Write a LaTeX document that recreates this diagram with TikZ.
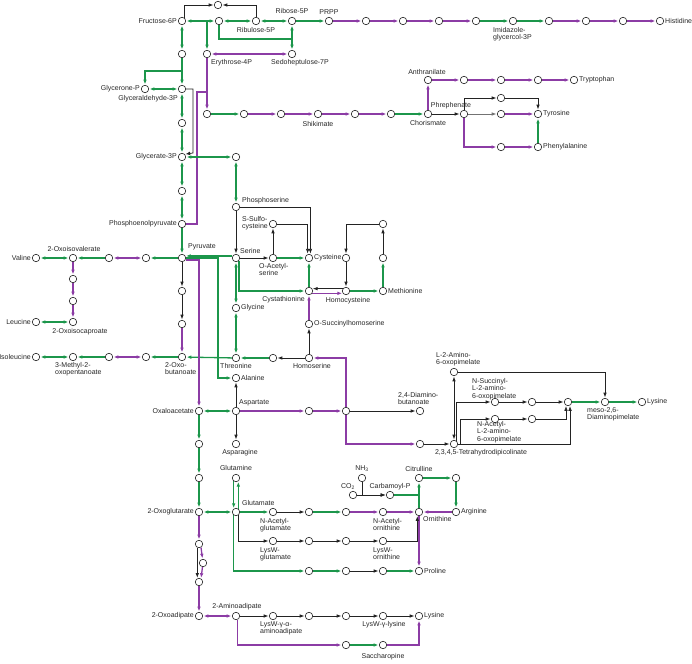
\documentclass[tikz,border=0pt]{standalone}
\usepackage{fontspec}
\setmainfont{Liberation Sans}
\usetikzlibrary{arrows.meta,calc}
\definecolor{gr}{RGB}{28,150,75}
\definecolor{pu}{RGB}{140,60,165}
\definecolor{bk}{RGB}{35,35,35}
\pgfdeclarelayer{bg}
\pgfsetlayers{bg,main}
\begin{document}
\begin{tikzpicture}[x=1pt,y=-1pt,
  c/.style={circle,draw=black!85,line width=0.6pt,fill=white,inner sep=0pt,minimum size=7.5pt},
  lb/.style={font=\fontsize{7}{7.6}\selectfont,inner sep=0pt,align=left,text=black!85},
  G/.style={draw=gr,line width=1.3pt},
  P/.style={draw=pu,line width=1.3pt},
  K/.style={draw=bk,line width=0.75pt},
  ar/.style={-{Latex[length=4.8pt,width=3.6pt]},shorten >=0.5pt},
  bi/.style={{Latex[length=4.8pt,width=3.6pt]}-{Latex[length=4.8pt,width=3.6pt]},shorten >=0.5pt,shorten <=0.5pt},
  rc/.style={sharp corners}]
\useasboundingbox (0,0) rectangle (692,663);
% ---------- circles ----------
\node[c] (top) at (218,5) {};
\node[c] (f6p) at (182,21) {};
\node[c] (x5p) at (219,21) {};
\node[c] (ru5p) at (256,21) {};
\node[c] (r5p) at (292,21) {};
\node[c] (prpp) at (329,21) {};
\node[c] (h1) at (366,21) {};
\node[c] (h2) at (403,21) {};
\node[c] (h3) at (439,21) {};
\node[c] (h4) at (476,21) {};
\node[c] (igp) at (513,21) {};
\node[c] (h5) at (549,21) {};
\node[c] (h6) at (586,21) {};
\node[c] (h7) at (623,21) {};
\node[c] (his) at (660,21) {};
\node[c] (c54) at (182,54) {};
\node[c] (e4p) at (207,54) {};
\node[c] (s7p) at (292,54) {};
\node[c] (glyp) at (145,89) {};
\node[c] (gap) at (182,89) {};
\node[c] (c123) at (182,123) {};
\node[c] (g3p) at (182,157) {};
\node[c] (c157) at (236,157) {};
\node[c] (c191) at (182,191) {};
\node[c] (pep) at (182,224) {};
\node[c] (pyr) at (182,258) {};
% shikimate
\node[c] (s1) at (207,114) {};
\node[c] (s2) at (244,114) {};
\node[c] (s3) at (281,114) {};
\node[c] (shik) at (318,114) {};
\node[c] (s5) at (355,114) {};
\node[c] (s6) at (391,114) {};
\node[c] (chor) at (428,114) {};
\node[c] (anth) at (428,80) {};
\node[c] (t1) at (464,80) {};
\node[c] (t2) at (501,80) {};
\node[c] (t3) at (538,80) {};
\node[c] (trp) at (574,80) {};
\node[c] (preph) at (464,114) {};
\node[c] (ty1) at (501,98) {};
\node[c] (ty2) at (501,114) {};
\node[c] (tyr) at (538,114) {};
\node[c] (ph1) at (501,147) {};
\node[c] (phe) at (538,147) {};
% serine block
\node[c] (pser) at (236,207) {};
\node[c] (ssc) at (273,224) {};
\node[c] (ser) at (236,258) {};
\node[c] (oas) at (273,258) {};
\node[c] (cys) at (309,258) {};
\node[c] (ch1) at (346,258) {};
\node[c] (ch2) at (383,224) {};
\node[c] (ch3) at (383,258) {};
\node[c] (met) at (383,291) {};
\node[c] (hcy) at (346,291) {};
\node[c] (cth) at (309,291) {};
\node[c] (gly) at (236,308) {};
\node[c] (osh) at (309,324) {};
\node[c] (hse) at (309,358) {};
\node[c] (thr1) at (273,358) {};
\node[c] (thr) at (236,358) {};
\node[c] (ala) at (236,378) {};
% branched chain
\node[c] (v1) at (146,258) {};
\node[c] (v2) at (109,258) {};
\node[c] (oiv) at (73,258) {};
\node[c] (val) at (36,258) {};
\node[c] (l1) at (73,279) {};
\node[c] (l2) at (73,301) {};
\node[c] (oic) at (73,322) {};
\node[c] (leu) at (36,322) {};
\node[c] (b1) at (182,291) {};
\node[c] (b2) at (182,324) {};
\node[c] (obu) at (182,357) {};
\node[c] (i1) at (146,357) {};
\node[c] (i2) at (109,357) {};
\node[c] (mop) at (73,357) {};
\node[c] (ile) at (36,357) {};
% aspartate
\node[c] (oaa) at (199,411) {};
\node[c] (asp) at (236,411) {};
\node[c] (a1) at (309,411) {};
\node[c] (asa) at (346,411) {};
\node[c] (dab) at (420,411) {};
\node[c] (asn) at (236,444) {};
\node[c] (o1) at (199,444) {};
\node[c] (o2) at (199,478) {};
\node[c] (gln) at (236,478) {};
\node[c] (ld1) at (420,444) {};
\node[c] (thdp) at (454,444) {};
\node[c] (aop) at (454,372) {};
\node[c] (nsuc) at (495,402) {};
\node[c] (ds1) at (532,402) {};
\node[c] (ds2) at (568,402) {};
\node[c] (dap) at (605,402) {};
\node[c] (lys1) at (642,402) {};
\node[c] (nac) at (495,419) {};
\node[c] (da1) at (532,419) {};
% glutamate
\node[c] (akg) at (199,512) {};
\node[c] (glu) at (236,512) {};
\node[c] (nag) at (273,512) {};
\node[c] (g2) at (309,512) {};
\node[c] (g3) at (346,512) {};
\node[c] (nao) at (383,512) {};
\node[c] (orn) at (419,512) {};
\node[c] (arg) at (456,512) {};
\node[c] (cit) at (419,478) {};
\node[c] (c478) at (456,478) {};
\node[c] (nh3) at (362,478) {};
\node[c] (co2) at (353,495) {};
\node[c] (cp) at (390,495) {};
\node[c] (lwg) at (273,541) {};
\node[c] (w2) at (309,541) {};
\node[c] (w3) at (346,541) {};
\node[c] (lwo) at (383,541) {};
\node[c] (p1) at (309,571) {};
\node[c] (p2) at (346,571) {};
\node[c] (p3) at (383,571) {};
\node[c] (pro) at (419,571) {};
% lysine (AAA)
\node[c] (k1) at (199,544) {};
\node[c] (k2) at (203,563) {};
\node[c] (k3) at (199,582) {};
\node[c] (oad) at (199,616) {};
\node[c] (aad) at (236,616) {};
\node[c] (y1) at (273,616) {};
\node[c] (y2) at (309,616) {};
\node[c] (y3) at (346,616) {};
\node[c] (lwl) at (383,616) {};
\node[c] (lys2) at (419,616) {};
\node[c] (sa1) at (346,645) {};
\node[c] (sac) at (383,645) {};
% ---------- labels ----------
\node[lb,anchor=east] (tf6p) at (177,21) {Fructose-6P};
\node[lb] (tru5p) at (256,30) {Ribulose-5P};
\node[lb] (tr5p) at (292,11) {Ribose-5P};
\node[lb] (tprpp) at (329,12) {PRPP};
\node[lb,anchor=north west] (tigp) at (493,27) {Imidazole-\\glycercol-3P};
\node[lb,anchor=west] (this) at (665,21) {Histidine};
\node[lb,anchor=west] (te4p) at (211,63) {Erythrose-4P};
\node[lb,anchor=west] (ts7p) at (271,63) {Sedoheptulose-7P};
\node[lb,anchor=east] (tglyp) at (140,89) {Glycerone-P};
\node[lb,anchor=east] (tgap) at (178,99) {Glyceraldehyde-3P};
\node[lb,anchor=east] (tg3p) at (177,157) {Glycerate-3P};
\node[lb,anchor=east] (tpep) at (177,224) {Phosphoenolpyruvate};
\node[lb,anchor=west] (tpyr) at (188,247) {Pyruvate};
\node[lb] (tshik) at (318,124) {Shikimate};
\node[lb] (tchor) at (428,123) {Chorismate};
\node[lb] (tanth) at (427,72) {Anthranilate};
\node[lb,anchor=west] (ttrp) at (579,80) {Tryptophan};
\node[lb] (tpreph) at (451,106) {Phrephenate};
\node[lb,anchor=west] (ttyr) at (543,114) {Tyrosine};
\node[lb,anchor=west] (tphe) at (543,147) {Phenylalanine};
\node[lb,anchor=west] (tpser) at (242,201) {Phosphoserine};
\node[lb,anchor=east] (tssc) at (268,223) {S-Sulfo-\\cysteine};
\node[lb,anchor=west] (tser) at (240,251) {Serine};
\node[lb,anchor=north west] (toas) at (259,263) {O-Acetyl-\\serine};
\node[lb,anchor=west] (tcys) at (314,258) {Cysteine};
\node[lb,anchor=west] (tmet) at (388,291) {Methionine};
\node[lb,anchor=north] (thcy) at (348,297) {Homocysteine};
\node[lb,anchor=north east] (tcth) at (305,296) {Cystathionine};
\node[lb,anchor=west] (tgly) at (241,308) {Glycine};
\node[lb,anchor=west] (tosh) at (314,324) {O-Succinylhomoserine};
\node[lb,anchor=north] (thse) at (312,363) {Homoserine};
\node[lb,anchor=north] (tthr) at (236,363) {Threonine};
\node[lb,anchor=west] (tala) at (241,378) {Alanine};
\node[lb] (toiv) at (74,249) {2-Oxoisovalerate};
\node[lb,anchor=east] (tval) at (31,258) {Valine};
\node[lb] (toic) at (80,332) {2-Oxoisocaproate};
\node[lb,anchor=east] (tleu) at (31,322) {Leucine};
\node[lb,anchor=east] (tile) at (31,357) {Isoleucine};
\node[lb,anchor=north west] (tmop) at (55,362) {3-Methyl-2-\\oxopentanoate};
\node[lb,anchor=north west] (tobu) at (165,362) {2-Oxo-\\butanoate};
\node[lb,anchor=east] (toaa) at (194,411) {Oxaloacetate};
\node[lb,anchor=west] (tasp) at (239,403) {Aspartate};
\node[lb,anchor=north] (tasn) at (240,449) {Asparagine};
\node[lb] (tgln) at (236,468) {Glutamine};
\node[lb,anchor=north west] (tdab) at (398,392) {2,4-Diamino-\\butanoate};
\node[lb,anchor=north west] (taop) at (436,352) {L-2-Amino-\\6-oxopimelate};
\node[lb,anchor=north west] (tnsuc) at (472,378) {N-Succinyl-\\L-2-amino-\\6-oxopimelate};
\node[lb,anchor=north west] (tnac) at (477,421) {N-Acetyl-\\L-2-amino-\\6-oxopimelate};
\node[lb] (tthdp) at (481,453) {2,3,4,5-Tetrahydrodipicolinate};
\node[lb,anchor=north west] (tdap) at (587,407) {meso-2,6-\\Diaminopimelate};
\node[lb,anchor=west] (tlys1) at (647,402) {Lysine};
\node[lb,anchor=east] (takg) at (194,512) {2-Oxoglutarate};
\node[lb,anchor=west] (tglu) at (242,503) {Glutamate};
\node[lb,anchor=north west] (tnag) at (260,518) {N-Acetyl-\\glutamate};
\node[lb,anchor=north west] (tnao) at (373,518) {N-Acetyl-\\ornithine};
\node[lb,anchor=west] (torn) at (423,519) {Ornithine};
\node[lb,anchor=west] (targ) at (461,512) {Arginine};
\node[lb] (tcit) at (419,469) {Citrulline};
\node[lb] (tnh3) at (362,469) {NH\textsubscript{3}};
\node[lb] (tco2) at (348,487) {CO\textsubscript{2}};
\node[lb] (tcp) at (390,487) {Carbamoyl-P};
\node[lb,anchor=north west] (tlwg) at (260,547) {LysW-\\glutamate};
\node[lb,anchor=north west] (tlwo) at (373,547) {LysW-\\ornithine};
\node[lb,anchor=west] (tpro) at (424,571) {Proline};
\node[lb,anchor=east] (toad) at (194,616) {2-Oxoadipate};
\node[lb] (taad) at (237,607) {2-Aminoadipate};
\node[lb,anchor=north west] (ty1l) at (260,621) {LysW-γ-α-\\aminoadipate};
\node[lb] (tlwl) at (384,625) {LysW-γ-lysine};
\node[lb,anchor=west] (tlys2) at (424,616) {Lysine};
\node[lb] (tsac) at (383,657) {Saccharopine};
% ---------- connectors ----------
\begin{pgfonlayer}{bg}
% top / pentose phosphate
\draw[K,ar,rc] (f6p.north east) |- (top);
\draw[K,ar,rc] (ru5p.north) |- (top);
\draw[G,bi] (f6p) -- (x5p);
\coordinate (j1) at (207,21);
\draw[G,ar] (j1) -- (e4p);
\draw[G,bi] (x5p) -- (ru5p);
\draw[G,bi] (ru5p) -- (r5p);
\draw[G,ar] (r5p) -- (prpp);
\draw[P,ar] (prpp) -- (h1);
\draw[P,ar] (h1) -- (h2);
\draw[P,ar] (h2) -- (h3);
\draw[P,ar] (h3) -- (h4);
\draw[G,ar] (h4) -- (igp);
\draw[G,ar] (igp) -- (h5);
\draw[P,ar] (h5) -- (h6);
\draw[P,ar] (h6) -- (h7);
\draw[P,ar] (h7) -- (his);
\draw[G,bi] (r5p) -- (s7p);
\draw[G,rc] (x5p) -- (219,39) -- (r5p |- 0,39);
\draw[P,bi] (e4p) -- (s7p);
% glycolysis
\draw[G,bi] (f6p) -- (c54);
\draw[G,ar] (c54) -- (gap);
\draw[G,ar,rc] (182,71) -| (glyp);
\draw[G,bi] (glyp) -- (gap);
\draw[G,bi] (gap) -- (c123);
\draw[G,bi] (c123) -- (g3p);
\draw[G,bi] (g3p) -- (c191);
\draw[G,bi] (c191) -- (pep);
\draw[G,ar] (pep) -- (pyr);
\draw[K,ar,rc] (gap.east) -- (193,89) -- (193,153) -- (g3p.north east);
\draw[P,rc] (pep.east) -- (197,224) -- (197,92) -- (207,92);
\draw[P,ar] (e4p) -- (s1);
% shikimate
\draw[G,ar] (s1) -- (s2);
\draw[P,ar] (s2) -- (s3);
\draw[P,ar] (s3) -- (shik);
\draw[P,ar] (shik) -- (s5);
\draw[P,ar] (s5) -- (s6);
\draw[G,ar] (s6) -- (chor);
\draw[P,ar] (chor) -- (anth);
\draw[P,ar] (anth) -- (t1);
\draw[P,ar] (t1) -- (t2);
\draw[P,ar] (t2) -- (t3);
\draw[P,ar] (t3) -- (trp);
\draw[K,ar] (chor) -- (preph);
\draw[K,ar,rc] (preph.north) |- (ty1);
\draw[K,ar,rc] (ty1) -| (tyr);
\draw[K,ar,draw=black!55] (preph) -- (ty2);
\draw[P,ar] (ty2) -- (tyr);
\draw[P,ar,rc] (preph.south) |- (ph1);
\draw[P,ar] (ph1) -- (phe);
\draw[G,ar] (phe) -- (tyr);
% serine / cysteine / methionine
\draw[G,bi] (g3p) -- (c157);
\draw[G,bi] (c157) -- (pser);
\draw[K,ar] (pser) -- (ser);
\draw[K,ar,rc] (pser.east) -| (cys.70);
\draw[K,ar] (ser) -- (oas);
\draw[G,ar] (oas) -- (cys);
\draw[K,ar] (oas) -- (ssc);
\draw[K,ar,rc] (ssc.east) -| (cys.110);
\draw[G,bi] (ser) -- (gly);
\draw[G,bi] (gly) -- (thr);
\draw[G,ar,rc] (ser.-45) |- (cth);
\draw[G,ar] (cth) -- (cys);
\draw[G,ar] (met) -- (ch3);
\draw[K,ar] (ch3) -- (ch2);
\draw[K,ar,rc] (ch2) -| (ch1);
\draw[K,ar] (ch1) -- (hcy);
\draw[G,ar] (hcy) -- (met);
\draw[K,ar] (hcy.145) -- (cth.35);
\draw[P,ar] (cth.-35) -- (hcy.-145);
\draw[P,ar] (osh) -- (cth);
\draw[K,ar] (hse) -- (osh);
\draw[K,ar] (hse) -- (thr1);
\draw[G,ar] (thr1) -- (thr);
\draw[G,ar] (thr) -- (obu);
\draw[G,ar] (ser.150) -- (pyr.30);
\draw[G,ar,rc] (pyr.0) -- (218,258) -- (218,378) -- (ala);
\draw[P,ar,rc] (pyr.-30) -- (pyr.-30 -| oaa) -- (oaa);
% branched chain
\draw[K,ar] (pyr) -- (b1);
\draw[K,ar] (b1) -- (b2);
\draw[P,ar] (b2) -- (obu);
\draw[G,ar] (pyr) -- (v1);
\draw[P,bi] (v1) -- (v2);
\draw[G,ar] (v2) -- (oiv);
\draw[G,bi] (val) -- (oiv);
\draw[P,ar] (oiv) -- (l1);
\draw[P,ar] (l1) -- (l2);
\draw[P,ar] (l2) -- (oic);
\draw[G,bi] (leu) -- (oic);
\draw[G,ar] (obu) -- (i1);
\draw[P,bi] (i1) -- (i2);
\draw[G,ar] (i2) -- (mop);
\draw[G,bi] (ile) -- (mop);
% aspartate family
\draw[G,bi] (oaa) -- (asp);
\draw[K,ar] (asp) -- (ala);
\draw[K,ar] (asp) -- (asn);
\draw[P,ar] (asp) -- (a1);
\draw[P,ar] (a1) -- (asa);
\draw[K,ar] (asa) -- (dab);
\draw[P,ar,rc] (asa.north) |- (hse);
\draw[P,ar,rc] (asa.south) |- (ld1);
\draw[K,ar] (ld1) -- (thdp);
\draw[K,bi] (thdp) -- (aop);
\draw[K,ar,rc] (aop) -| (dap);
\draw[K,ar,rc] (thdp.45) |- (nsuc);
\draw[K,ar,rc] ($(thdp.east)+(2.5,0)$) |- (nac);
\draw[K,ar,rc] (thdp.east) -| (ds2.-60);
\draw[K,ar] (nsuc) -- (ds1);
\draw[K,ar] (ds1) -- (ds2);
\draw[K,ar] (nac) -- (da1);
\draw[K,ar,rc] (da1) -| (ds2.-120);
\draw[G,ar] (ds2) -- (dap);
\draw[G,ar] (dap) -- (lys1);
% glutamate family
\draw[G,ar] (oaa) -- (o1);
\draw[G,ar] (o1) -- (o2);
\draw[G,ar] (o2) -- (akg);
\draw[G,bi] (akg) -- (glu);
\draw[G,ar] (glu.55) -- (gln.-55);
\draw[G,ar] (gln.-125) -- (glu.125);
\draw[G,ar] (glu) -- (nag);
\draw[K,ar] (nag) -- (g2);
\draw[G,ar] (g2) -- (g3);
\draw[P,ar] (g3) -- (nao);
\draw[P,ar] (nao) -- (orn);
\draw[P,ar] (arg) -- (orn);
\draw[G,ar] (orn) -- (cit);
\draw[G] (cp) -- (cp -| cit);
\draw[G,ar] (cit) -- (c478);
\draw[G,ar] (c478) -- (arg);
\draw[P,ar] (orn) -- (pro);
\draw[K,ar,rc] (nh3) |- (cp);
\draw[K,ar] (co2) -- (cp);
\draw[K,ar,rc] (glu.-55) |- (lwg);
\draw[K,ar] (lwg) -- (w2);
\draw[K,ar] (w2) -- (w3);
\draw[K,ar] (w3) -- (lwo);
\draw[K,ar,rc] (lwo) -| (orn.-115);
\draw[G,ar,rc] (glu.-125) |- (p1);
\draw[G,ar] (p1) -- (p2);
\draw[K,ar] (p2) -- (p3);
\draw[G,ar] (p3) -- (pro);
% aminoadipate
\draw[P,ar] (akg) -- (k1);
\draw[K,ar] (k1.-115) -- (k3.115);
\draw[P,ar] (k1.-60) -- (k2);
\draw[P,ar] (k2) -- (k3.60);
\draw[P,ar] (k3) -- (oad);
\draw[P,bi] (oad) -- (aad);
\draw[K,ar] (aad) -- (y1);
\draw[K,ar] (y1) -- (y2);
\draw[K,ar] (y2) -- (y3);
\draw[K,ar] (y3) -- (lwl);
\draw[K,ar] (lwl) -- (lys2);
\draw[P,ar,rc] (aad.-70) |- (sa1);
\draw[G,ar] (sa1) -- (sac);
\draw[P,ar,rc] (sac) -| (lys2);
\end{pgfonlayer}
\end{tikzpicture}
\end{document}
